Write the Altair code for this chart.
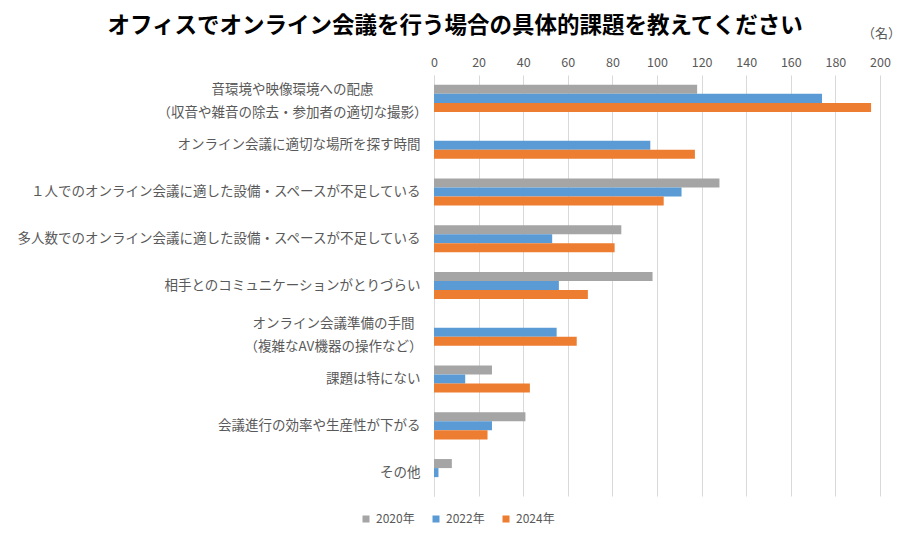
import altair as alt
import pandas as pd

categories = [
    "音環境や映像環境への配慮|（収音や雑音の除去・参加者の適切な撮影）",
    "オンライン会議に適切な場所を探す時間",
    "１人でのオンライン会議に適した設備・スペースが不足している",
    "多人数でのオンライン会議に適した設備・スペースが不足している",
    "相手とのコミュニケーションがとりづらい",
    "オンライン会議準備の手間|（複雑なAV機器の操作など）",
    "課題は特にない",
    "会議進行の効率や生産性が下がる",
    "その他",
]
years = ["2020年", "2022年", "2024年"]
v2020 = [118, None, 128, 84, 98, None, 26, 41, 8]
v2022 = [174, 97, 111, 53, 56, 55, 14, 26, 2]
v2024 = [196, 117, 103, 81, 69, 64, 43, 24, 0]
colors = ["#A5A5A5", "#5B9BD5", "#ED7D31"]
x_ticks = list(range(0, 201, 20))

rows = []
for yr, vals in zip(years, [v2020, v2022, v2024]):
    for c, v in zip(categories, vals):
        if v is not None:
            rows.append({"課題": c, "年": yr, "人数": v})
df = pd.DataFrame(rows)

FONT = "Noto Sans CJK JP"

chart = alt.Chart(df).mark_bar().encode(
    y=alt.Y(
        "課題:N",
        sort=categories,
        scale=alt.Scale(domain=categories, paddingInner=0.42, paddingOuter=0.21),
        axis=alt.Axis(
            title=None,
            labelExpr="split(datum.label, '|')",
            labelLineHeight=23,
            labelFont=FONT,
            labelFontSize=13.5,
            labelColor="#595959",
            labelLimit=500,
            ticks=False,
            domainColor="#d9d9d9",
            labelAlign={"condition": {"test": "indexof(datum.value, '|') >= 0", "value": "center"}, "value": "right"},
            labelOffset={"condition": {"test": "indexof(datum.value, '|') >= 0", "value": -8}, "value": 0},
            labelPadding={
                "condition": [
                    {"test": "indexof(datum.value, '収音') >= 0", "value": 142},
                    {"test": "indexof(datum.value, '複雑') >= 0", "value": 101},
                ],
                "value": 14,
            },
        ),
    ),
    yOffset=alt.YOffset("年:N", sort=years, scale=alt.Scale(domain=years, paddingInner=0, paddingOuter=0)),
    x=alt.X(
        "人数:Q",
        scale=alt.Scale(domain=[0, 200], nice=False),
        axis=alt.Axis(
            orient="top",
            values=x_ticks,
            title="（名）",
            titleX=447,
            titleY=-42,
            titleAngle=0,
            titleAlign="center",
            titleBaseline="middle",
            titleFont=FONT,
            titleFontSize=13,
            titleFontWeight="normal",
            titleColor="#595959",
            labelFont=FONT,
            labelFontSize=12.5,
            labelColor="#595959",
            labelPadding=6,
            labelFlush=False,
            ticks=False,
            domain=False,
            gridColor="#d9d9d9",
        ),
    ),
    color=alt.Color(
        "年:N",
        sort=years,
        scale=alt.Scale(domain=years, range=colors),
        legend=alt.Legend(
            title=None,
            orient="none",
            legendX=-74,
            legendY=438,
            direction="horizontal",
            symbolType="square",
            symbolSize=49,
            symbolStrokeWidth=0,
            labelFont=FONT,
            labelFontSize=12,
            labelColor="#595959",
            columnPadding=15,
            labelOffset=4,
        ),
    ),
).properties(
    width=446,
    height=421,
    title=alt.TitleParams(
        "オフィスでオンライン会議を行う場合の具体的課題を教えてください",
        anchor="middle",
        dx=-202,
        dy=14,
        font=FONT,
        fontSize=22.5,
        fontWeight="bold",
        color="#000000",
    ),
    autosize=alt.AutoSizeParams(type="none"),
    padding={"left": 426, "top": 67, "right": 24, "bottom": 40},
).configure_view(stroke=None)

chart.save("out.html", embed_options={"renderer": "svg", "actions": False})
